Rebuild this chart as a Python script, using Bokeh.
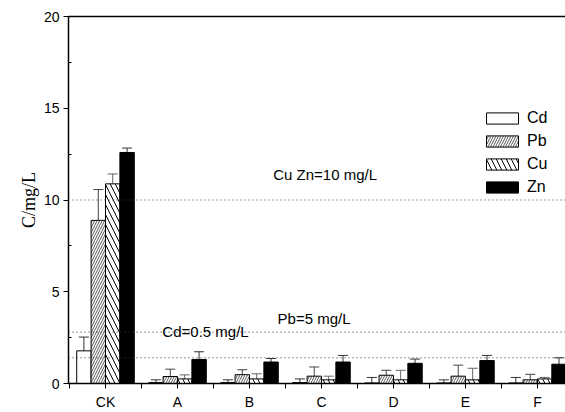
from bokeh.plotting import figure
from bokeh.models import (ColumnDataSource, FixedTicker, Whisker, TeeHead, Span, Label,
                          Legend, LegendItem, LinearAxis, Range1d)
from bokeh.embed import file_html
from bokeh.resources import INLINE

categories = ["CK", "A", "B", "C", "D", "E", "F"]
series = ["Cd", "Pb", "Cu", "Zn"]
cd = [1.78, 0.05, 0.05, 0.05, 0.03, 0.03, 0.03]
cd_err = [0.75, 0.15, 0.15, 0.20, 0.30, 0.17, 0.30]
pb = [8.89, 0.38, 0.48, 0.40, 0.45, 0.40, 0.20]
pb_err = [1.68, 0.40, 0.27, 0.50, 0.27, 0.60, 0.30]
cu = [10.88, 0.25, 0.25, 0.20, 0.20, 0.20, 0.25]
cu_err = [0.54, 0.22, 0.28, 0.20, 0.52, 0.63, 0.08]
zn = [12.59, 1.31, 1.17, 1.17, 1.10, 1.25, 1.05]
zn_err = [0.24, 0.42, 0.19, 0.36, 0.23, 0.28, 0.35]
limit_lines = [10.0, 2.8, 1.4]
limit_texts = ["Cu Zn=10 mg/L", "Pb=5 mg/L", "Cd=0.5 mg/L"]

FONT = "Liberation Sans"

p = figure(width=565, height=412, output_backend="svg", toolbar_location=None,
           x_range=Range1d(-0.514, 6.39), y_range=Range1d(0, 20),
           min_border_left=68, min_border_right=0, min_border_top=16, min_border_bottom=10)
p.outline_line_color = None
p.grid.visible = False
p.background_fill_color = "white"

xs = list(range(len(categories)))
offsets = [-0.3, -0.1, 0.1, 0.3]
vals = [cd, pb, cu, zn]
errs = [cd_err, pb_err, cu_err, zn_err]
styles = [
    dict(fill_color="white"),
    dict(fill_color="white", hatch_pattern="/", hatch_scale=5, hatch_weight=0.9, hatch_color="#444444"),
    dict(fill_color="white", hatch_pattern="\\", hatch_scale=10, hatch_weight=1, hatch_color="black"),
    dict(fill_color="black"),
]
err_colors = ["#333333", "#444444", "#666666", "#333333"]

items = []
for name, v, e, off, st, ec in zip(series, vals, errs, offsets, styles, err_colors):
    src = ColumnDataSource(dict(
        x=[xi + off for xi in xs], top=v,
        upper=[a + b for a, b in zip(v, e)],
        lower=[max(a - b, 0) for a, b in zip(v, e)],
    ))
    r = p.vbar(x="x", top="top", width=0.2, source=src, line_color="black", line_width=1, **st)
    items.append(LegendItem(label=name, renderers=[r]))
    w = Whisker(base="x", upper="upper", lower="lower", source=src, line_color=ec, line_width=1,
                upper_head=TeeHead(size=10, line_color=ec, line_width=1),
                lower_head=TeeHead(size=10, line_color=ec, line_width=1))
    p.add_layout(w)

for yv in limit_lines:
    p.add_layout(Span(location=yv, dimension="width", line_color="#333333", line_width=1,
                      line_dash="1 3"))

label_pos = [(2.33, 10.95), (2.39, 3.09), (0.79, 2.38)]
for txt, (lx, ly) in zip(limit_texts, label_pos):
    p.add_layout(Label(x=lx, y=ly, text=txt, text_font=FONT, text_font_size="15px",
                       text_color="black"))

# axes
p.xaxis.ticker = FixedTicker(ticks=xs, minor_ticks=[i - 0.5 for i in range(len(categories) + 1)])
p.xaxis.major_label_overrides = {i: c for i, c in enumerate(categories)}
p.yaxis.ticker = FixedTicker(ticks=[0, 5, 10, 15, 20], minor_ticks=[2.5, 7.5, 12.5, 17.5])
for ax in (p.xaxis[0], p.yaxis[0]):
    ax.axis_line_color = "black"
    ax.axis_line_width = 1.5
    ax.major_tick_line_color = "black"
    ax.minor_tick_line_color = "black"
    ax.major_tick_line_width = 1
    ax.minor_tick_line_width = 1
    ax.major_label_text_font = FONT
    ax.major_label_text_color = "black"
p.xaxis.major_tick_out = 5
p.xaxis.major_tick_in = 0
p.xaxis.minor_tick_out = 5
p.xaxis.minor_tick_in = 0
p.xaxis.major_label_text_font_size = "14px"
p.xaxis.major_label_standoff = 5
p.yaxis.major_tick_out = 5
p.yaxis.major_tick_in = 0
p.yaxis.minor_tick_out = 0
p.yaxis.minor_tick_in = 3
p.yaxis.major_label_text_font_size = "14px"
p.yaxis.major_label_standoff = 4
p.yaxis.axis_label = "C/mg/L"
p.yaxis.axis_label_text_font = "Liberation Serif"
p.yaxis.axis_label_text_font_style = "normal"
p.yaxis.axis_label_text_font_size = "18px"
p.yaxis.axis_label_text_color = "black"
p.yaxis.axis_label_standoff = 2

top_axis = LinearAxis(ticker=FixedTicker(ticks=[]), major_label_text_font_size="0px",
                      major_tick_out=0, major_tick_in=0, minor_tick_out=0, minor_tick_in=0,
                      axis_line_color="black", axis_line_width=1.5, major_label_standoff=0)
p.add_layout(top_axis, "above")

legend = Legend(items=items, location=(414, 187), border_line_color=None,
                background_fill_alpha=0, padding=0, margin=0, spacing=5,
                glyph_width=40, glyph_height=14, label_height=14,
                label_text_font=FONT, label_text_font_size="16px", label_text_color="black",
                label_standoff=5)
p.add_layout(legend)

open("out.html", "w").write(file_html(p, INLINE))
